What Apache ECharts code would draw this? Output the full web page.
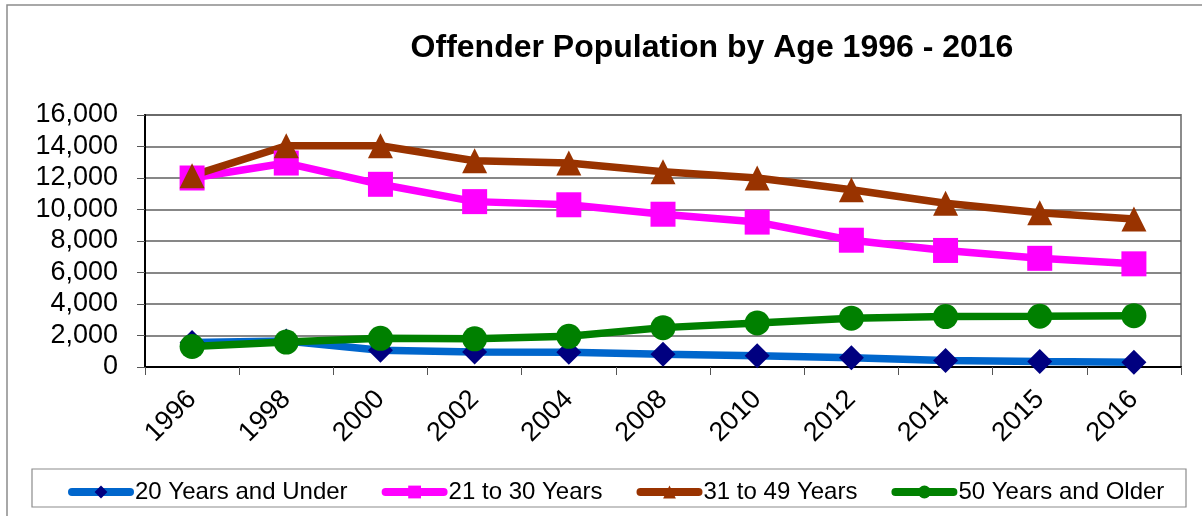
<!DOCTYPE html>
<html>
<head>
<meta charset="utf-8">
<title>Offender Population by Age 1996 - 2016</title>
<script src="https://cdn.jsdelivr.net/npm/echarts@6/dist/echarts.min.js"></script>
<style>
  html, body { margin: 0; padding: 0; background: #ffffff; }
  #chart { width: 1202px; height: 516px; }
</style>
</head>
<body>
<div id="chart"></div>
<script>
// Survey years on the category axis
const years = ['1996', '1998', '2000', '2002', '2004', '2008', '2010', '2012', '2014', '2015', '2016'];

// Offender counts per age group
const under20 = [1550, 1650, 1060, 960, 940, 815, 710, 585, 410, 350, 305];
const age21to30 = [12000, 12950, 11600, 10500, 10300, 9700, 9200, 8050, 7400, 6900, 6550];
const age31to49 = [12150, 14050, 14050, 13100, 12950, 12400, 12000, 11250, 10400, 9800, 9400];
const age50plus = [1300, 1580, 1820, 1790, 1950, 2500, 2800, 3100, 3200, 3220, 3260];

// Series names shown in the legend
const seriesNames = ['20 Years and Under', '21 to 30 Years', '31 to 49 Years', '50 Years and Older'];

const FONT = "'Liberation Sans', Arial, sans-serif";

const chart = echarts.init(document.getElementById('chart'), null, { renderer: 'canvas' });

function lineSeries(name, values, lineColor, markerColor, symbol) {
  return {
    name: name,
    type: 'line',
    data: values,
    symbol: symbol,
    symbolSize: 25,
    lineStyle: { color: lineColor, width: 7.5 },
    itemStyle: { color: markerColor, borderWidth: 0 },
    emphasis: { disabled: true },
    animation: false
  };
}

chart.setOption({
  backgroundColor: '#ffffff',
  animation: false,
  textStyle: { fontFamily: FONT },
  graphic: [
    {
      // outer chart frame
      type: 'rect',
      shape: { x: 7, y: 5, width: 1300, height: 600 },
      style: { fill: 'none', stroke: '#8c8c8c', lineWidth: 1.5 },
      silent: true,
      z: -10
    },
    {
      // legend frame
      type: 'rect',
      shape: { x: 32, y: 469, width: 1154, height: 38 },
      style: { fill: 'none', stroke: '#8c8c8c', lineWidth: 1.2 },
      silent: true,
      z: -5
    },
    {
      type: 'text',
      x: 712,
      y: 48,
      style: {
        text: 'Offender Population by Age 1996 - 2016',
        font: "bold 32px 'Liberation Sans', Arial, sans-serif",
        fill: '#000000',
        textAlign: 'center',
        textVerticalAlign: 'middle'
      },
      silent: true
    }
  ],
  grid: {
    left: 145,
    right: 21,
    top: 115,
    bottom: 149,
    show: true,
    borderColor: '#8c8c8c',
    borderWidth: 2,
    containLabel: false
  },
  legend: {
    data: seriesNames,
    left: 68,
    top: 480,
    padding: 0,
    itemWidth: 58,
    itemHeight: 16,
    itemGap: 34,
    selectedMode: false,
    lineStyle: { width: 8, cap: 'round' },
    textStyle: { fontSize: 24, color: '#000000', fontFamily: FONT }
  },
  xAxis: {
    type: 'category',
    data: years,
    boundaryGap: true,
    axisLine: { show: true, lineStyle: { color: '#000000', width: 2 } },
    axisTick: { show: true, length: 8, lineStyle: { color: '#555555', width: 1 } },
    axisLabel: {
      rotate: 45,
      margin: 28,
      fontSize: 27,
      color: '#000000',
      fontFamily: FONT
    },
    splitLine: { show: false }
  },
  yAxis: {
    type: 'value',
    min: 0,
    max: 16000,
    interval: 2000,
    axisLine: { show: true, lineStyle: { color: '#000000', width: 2 } },
    axisTick: { show: true, length: 8, lineStyle: { color: '#555555', width: 1 } },
    axisLabel: {
      margin: 27,
      fontSize: 27,
      color: '#000000',
      fontFamily: FONT,
      formatter: function (v) { return v.toLocaleString('en-US'); }
    },
    splitLine: { show: true, lineStyle: { color: '#5f5f5f', width: 1.5 } }
  },
  series: [
    lineSeries(seriesNames[0], under20, '#0066cc', '#000080', 'diamond'),
    lineSeries(seriesNames[1], age21to30, '#ff00ff', '#ff00ff', 'rect'),
    lineSeries(seriesNames[2], age31to49, '#993300', '#993300', 'triangle'),
    lineSeries(seriesNames[3], age50plus, '#008000', '#008000', 'circle')
  ]
});
</script>
</body>
</html>
